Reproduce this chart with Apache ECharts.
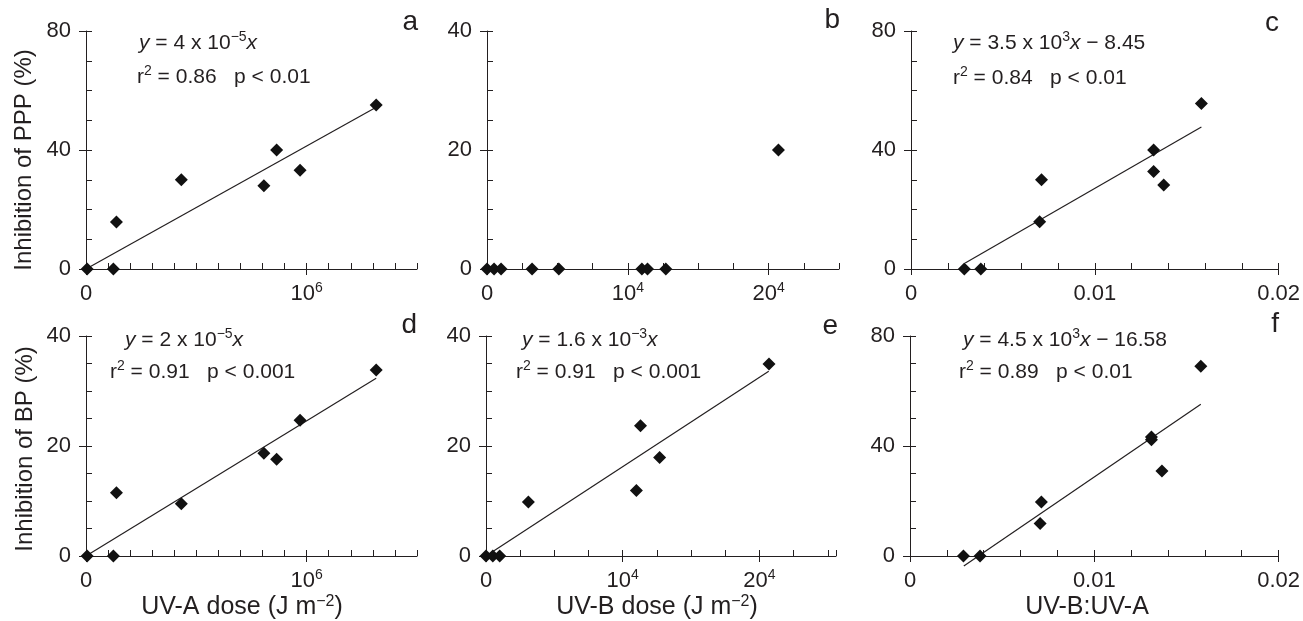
<!DOCTYPE html>
<html><head><meta charset="utf-8">
<script src="https://cdn.jsdelivr.net/npm/echarts@6/dist/echarts.min.js"></script>
<style>html,body{margin:0;padding:0;background:#fff}#c{width:1303px;height:621px}</style>
</head><body><div id="c"></div>
<script>
// ---------------- data ----------------
const uvaDose   = [5000, 124000, 138000, 432000, 806000, 864000, 970000, 1315000];
const pppVsUva  = [0, 0, 15.8, 30, 28, 40, 33.2, 55.1];
const bpVsUva   = [0, 0, 11.5, 9.5, 18.7, 17.6, 24.7, 33.8];
const uvbDoseB  = [0, 500, 1000, 3200, 5100, 11000, 11400, 12700, 20700];
const pppVsUvb  = [0, 0, 0, 0, 0, 0, 0, 0, 20];
const uvbDoseE  = [0, 500, 1000, 3100, 11000, 11300, 12700, 20700];
const bpVsUvb   = [0, 0, 0, 9.8, 11.9, 23.7, 17.9, 34.9];
const ratioC    = [0.0029, 0.0038, 0.0070, 0.0071, 0.0132, 0.0132, 0.01375, 0.0158];
const pppVsRatio= [0, 0, 15.9, 30, 40, 32.8, 28.2, 55.6];
const ratioF    = [0.0029, 0.0038, 0.00706, 0.00713, 0.0131, 0.0131, 0.01367, 0.01578];
const bpVsRatio = [0, 0, 11.8, 19.6, 42.3, 43.3, 30.9, 69];
// regression lines (end points)
const fitAX = [0, 1315000],   fitAY = [0, 54.4];
const fitCX = [0.00295, 0.0158], fitCY = [2.0, 47.7];
const fitDX = [0, 1315000],   fitDY = [0, 32.3];
const fitEX = [0, 20680],     fitEY = [0, 33.6];
const fitFX = [0.00292, 0.01578], fitFY = [-3.6, 55.2];
// tick labels
const uvaTicks   = [0, 1000000];
const uvaLabels  = ['0', '10{s|6}'];
const uvbTicks   = [0, 10000, 20000];
const uvbLabels  = ['0', '10{s|4}', '20{s|4}'];
const ratioTicks = [0, 0.01, 0.02];
const ratioLabels= ['0', '0.01', '0.02'];
const y80Ticks = [0, 40, 80];
const y40Ticks = [0, 20, 40];
const panelLetters = ['a', 'b', 'c', 'd', 'e', 'f'];

// ---------------- layout / style ----------------
const FONT = 'Liberation Sans, Arial, Helvetica, sans-serif';
const INK = '#231f20';
const grids = [
  {left: 86,  top: 31,  width: 331, height: 238},
  {left: 487, top: 31,  width: 352, height: 238},
  {left: 911, top: 31,  width: 374, height: 238},
  {left: 86,  top: 336, width: 331, height: 220},
  {left: 486, top: 336, width: 350, height: 220},
  {left: 910, top: 336, width: 374, height: 220}
];
const zip = (xs, ys) => xs.map((x, i) => [x, ys[i]]);
const panels = [
  {xs: uvaDose, ys: pppVsUva, fx: fitAX, fy: fitAY, xr: [0, 1500000], xm: 100000, xt: uvaTicks, xl: uvaLabels, yr: [0, 80], ym: 10, yt: y80Ticks},
  {xs: uvbDoseB, ys: pppVsUvb, fx: null, fy: null, xr: [0, 25000], xm: 2500, xt: uvbTicks, xl: uvbLabels, yr: [0, 40], ym: 5, yt: y40Ticks},
  {xs: ratioC, ys: pppVsRatio, fx: fitCX, fy: fitCY, xr: [0, 0.02], xm: 0.002, xt: ratioTicks, xl: ratioLabels, yr: [0, 80], ym: 10, yt: y80Ticks},
  {xs: uvaDose, ys: bpVsUva, fx: fitDX, fy: fitDY, xr: [0, 1500000], xm: 100000, xt: uvaTicks, xl: uvaLabels, yr: [0, 40], ym: 5, yt: y40Ticks},
  {xs: uvbDoseE, ys: bpVsUvb, fx: fitEX, fy: fitEY, xr: [0, 25600], xm: 2500, xt: uvbTicks, xl: uvbLabels, yr: [0, 40], ym: 5, yt: y40Ticks},
  {xs: ratioF, ys: bpVsRatio, fx: fitFX, fy: fitFY, xr: [0, 0.02], xm: 0.002, xt: ratioTicks, xl: ratioLabels, yr: [0, 80], ym: 10, yt: y80Ticks}
];
const supRich = {s: {fontSize: 14, lineHeight: 8, verticalAlign: 'top', fontFamily: FONT, color: INK}};

const xAxis = [], yAxis = [], series = [];
panels.forEach((p, g) => {
  const near = (a, b) => Math.abs(a - b) < 1e-9 * Math.max(1, Math.abs(b));
  xAxis.push({
    gridIndex: g, type: 'value', position: 'bottom', min: p.xr[0], max: p.xr[1],
    axisLine: {show: true, onZero: false, lineStyle: {color: INK, width: 1}},
    axisTick: {show: true, inside: false, length: 6, customValues: p.xt, lineStyle: {color: INK}},
    axisLabel: {show: true, customValues: p.xt, margin: 12, fontSize: 22, lineHeight: 26, color: INK, fontFamily: FONT,
      rich: supRich,
      formatter: v => { const i = p.xt.findIndex(t => near(t, v)); return i >= 0 ? p.xl[i] : ''; }},
    splitLine: {show: false}
  });
  xAxis.push({
    gridIndex: g, type: 'value', position: 'bottom', min: p.xr[0], max: p.xr[1], interval: p.xm,
    axisLine: {show: false, onZero: false}, axisLabel: {show: false}, splitLine: {show: false},
    axisTick: {show: true, inside: true, length: 6, lineStyle: {color: INK}}
  });
  yAxis.push({
    gridIndex: g, type: 'value', position: 'left', min: p.yr[0], max: p.yr[1],
    axisLine: {show: true, onZero: false, lineStyle: {color: INK, width: 1}},
    axisTick: {show: true, inside: false, length: 7, customValues: p.yt, lineStyle: {color: INK}},
    axisLabel: {show: true, customValues: p.yt, margin: 15, fontSize: 22, color: INK, fontFamily: FONT},
    splitLine: {show: false}
  });
  yAxis.push({
    gridIndex: g, type: 'value', position: 'left', min: p.yr[0], max: p.yr[1], interval: p.ym,
    axisLine: {show: false, onZero: false}, axisLabel: {show: false}, splitLine: {show: false},
    axisTick: {show: true, inside: true, length: 6, lineStyle: {color: INK}}
  });
  if (p.fx) {
    series.push({
      type: 'line', xAxisIndex: 2 * g, yAxisIndex: 2 * g, data: zip(p.fx, p.fy),
      symbol: 'none', clip: false, lineStyle: {color: INK, width: 1.2}, silent: true, z: 2
    });
  }
  series.push({
    type: 'scatter', xAxisIndex: 2 * g, yAxisIndex: 2 * g, data: zip(p.xs, p.ys),
    symbol: 'diamond', symbolSize: [13, 13], itemStyle: {color: '#111', opacity: 1}, z: 3, clip: false
  });
});

const txt = (x, y, text, opts = {}) => ({
  type: 'text', x, y, rotation: opts.rot || 0, silent: true,
  style: {
    text, fill: INK, fontSize: opts.fs || 21, fontFamily: FONT, lineHeight: 26,
    align: opts.align || 'left', verticalAlign: 'middle',
    rich: {
      s: {fontSize: opts.sfs || 14, lineHeight: 8, verticalAlign: 'top', fontFamily: FONT, fill: INK},
      i: {fontStyle: 'italic', fontSize: opts.fs || 21, lineHeight: 26, fontFamily: FONT, fill: INK}
    }
  }
});

const graphic = [
  txt(139, 43, '{i|y} = 4 x 10{s|−5}{i|x}'),
  txt(137, 77, 'r{s|2} = 0.86   p < 0.01'),
  txt(953, 43, '{i|y} = 3.5 x 10{s|3}{i|x} − 8.45'),
  txt(953, 78, 'r{s|2} = 0.84   p < 0.01'),
  txt(125, 340, '{i|y} = 2 x 10{s|−5}{i|x}'),
  txt(110, 372, 'r{s|2} = 0.91   p < 0.001'),
  txt(522, 340, '{i|y} = 1.6 x 10{s|−3}{i|x}'),
  txt(516, 372, 'r{s|2} = 0.91   p < 0.001'),
  txt(963, 340, '{i|y} = 4.5 x 10{s|3}{i|x} − 16.58'),
  txt(959, 372, 'r{s|2} = 0.89   p < 0.01'),
  txt(24, 160, 'Inhibition of PPP (%)', {rot: Math.PI / 2, align: 'center', fs: 24}),
  txt(25, 449, 'Inhibition of BP (%)', {rot: Math.PI / 2, align: 'center', fs: 24}),
  txt(242, 607, 'UV-A dose (J m{s|−2})', {align: 'center', fs: 25, sfs: 16}),
  txt(657, 607, 'UV-B dose (J m{s|−2})', {align: 'center', fs: 25, sfs: 16}),
  txt(1087, 607, 'UV-B:UV-A', {align: 'center', fs: 25})
];
const letterPos = [[418, 22], [840, 20], [1279, 23], [417, 325], [838, 326], [1279, 324]];
panelLetters.forEach((l, i) => graphic.push(txt(letterPos[i][0], letterPos[i][1], l, {align: 'right', fs: 28})));

const chart = echarts.init(document.getElementById('c'));
chart.setOption({
  backgroundColor: '#fff',
  animation: false,
  textStyle: {fontFamily: FONT},
  grid: grids.map(g => Object.assign({containLabel: false}, g)),
  xAxis, yAxis, series, graphic
});
</script></body></html>
